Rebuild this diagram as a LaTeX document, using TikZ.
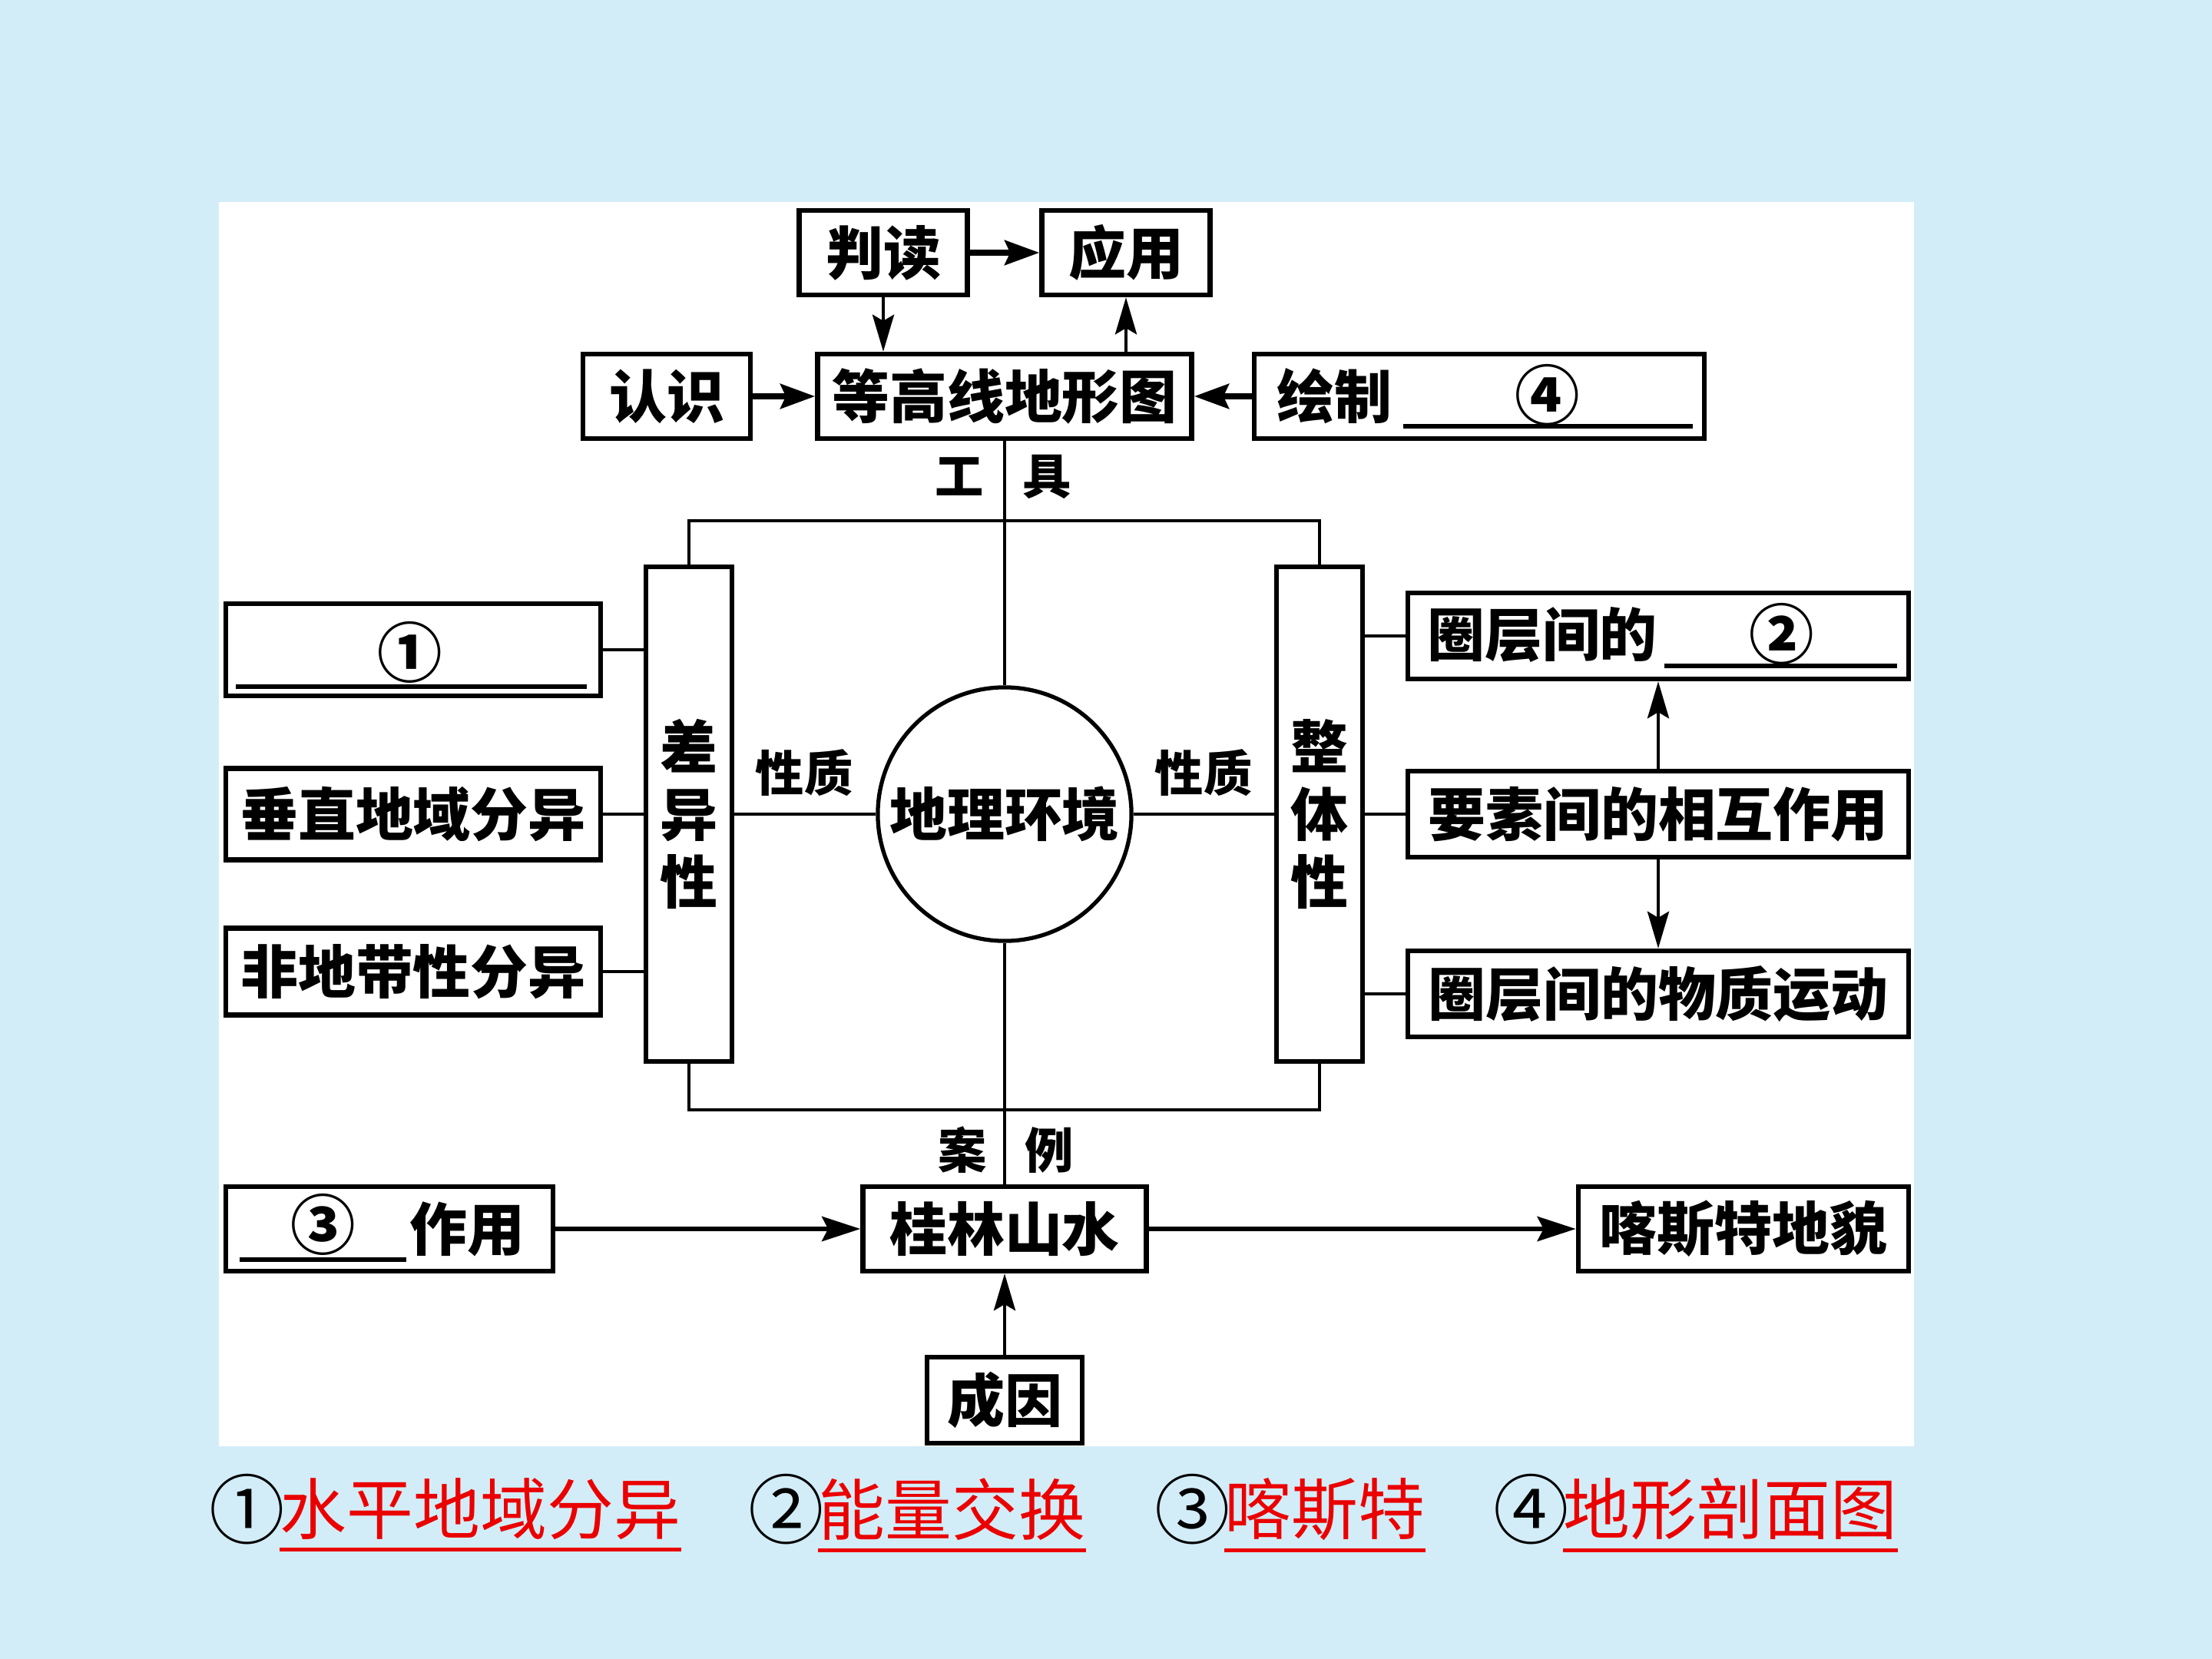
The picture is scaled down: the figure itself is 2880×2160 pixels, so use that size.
\documentclass[tikz,border=0pt]{standalone}
\usepackage{fontspec}
\newfontfamily\cjk{Noto Sans CJK SC}
\usetikzlibrary{arrows.meta}
\definecolor{bg}{RGB}{210,237,248}
\definecolor{ansred}{RGB}{235,0,0}
\begin{document}
\begin{tikzpicture}[x=0.01cm,y=-0.01cm,
  box/.style={draw, line width=1.8pt, fill=white, inner sep=0pt, minimum height=1.1cm},
  txt/.style={font={\cjk\bfseries\fontsize{21.3pt}{25pt}\selectfont}, inner sep=0pt},
  numtxt/.style={font={\cjk\bfseries\fontsize{24pt}{26pt}\selectfont}, inner sep=0pt},
  smalltxt/.style={font={\cjk\bfseries\fontsize{18pt}{20pt}\selectfont}, inner sep=0pt},
  conn/.style={line width=1.1pt},
  arr/.style={line width=1.3pt, -{Stealth[length=0.48cm,width=0.28cm,inset=0.08cm]}},
  thickarr/.style={line width=2.2pt, -{Stealth[length=0.45cm,width=0.32cm,inset=0.07cm]}},
  longarr/.style={line width=1.8pt, -{Stealth[length=0.5cm,width=0.32cm,inset=0.08cm]}},
  uline/.style={line width=1.8pt},
  ans/.style={font={\cjk\fontsize{24.7pt}{28pt}\selectfont}, inner sep=0pt, anchor=west},
  ansnum/.style={font={\cjk\fontsize{28pt}{30pt}\selectfont}, inner sep=0pt, anchor=west},
]
\useasboundingbox (0,0) rectangle (2880,2160);
\fill[bg] (0,0) rectangle (2880,2160);
\fill[white] (285,263) rectangle (2492,1883);

% frame
\coordinate (ftl) at (897,678);
\coordinate (fbr) at (1718,1445);
\draw[conn] (ftl) rectangle (fbr);

% top boxes
\node[box,txt,minimum width=2.19cm] (pd) at (1150,329) {判读};
\node[box,txt,minimum width=2.19cm] (yy) at (1466,329) {应用};
\node[box,txt,minimum width=2.18cm] (rs) at (868,516) {认识};
\node[box,txt,minimum width=4.87cm] (dgx) at (1308,516) {等高线地形图};
\node[box,minimum width=5.86cm] (hz) at (1926,516) {};
\node[txt] (hzt) at (1737,516) {绘制};
\node[numtxt] (n4) at (2015,514) {④};
\draw[uline] (1827,555) -- (2204,555);

% labels 工 具
\node[smalltxt] (gong) at (1249,621) {工};
\node[smalltxt] (ju) at (1363,621) {具};

% circle
\node[draw, circle, line width=1.5pt, minimum size=3.3cm, fill=white, txt] (env) at (1308,1060) {地理环境};

% vertical boxes
\node[box,txt,minimum width=1.12cm,minimum height=6.44cm,align=center] (cy) at (897,1060) {差\\异\\性};
\node[box,txt,minimum width=1.12cm,minimum height=6.44cm,align=center] (zt) at (1718,1060) {整\\体\\性};

% left boxes
\node[box,minimum width=4.88cm,minimum height=1.2cm] (L1) at (538,846) {};
\node[numtxt] (n1) at (534,849) {①};
\draw[uline] (307,894) -- (764,894);
\node[box,txt,minimum width=4.88cm,minimum height=1.19cm] (L2) at (538,1060) {垂直地域分异};
\node[box,txt,minimum width=4.88cm,minimum height=1.13cm] (L3) at (538,1265) {非地带性分异};

% right boxes
\node[box,minimum width=6.52cm,minimum height=1.12cm] (R1) at (2159,828) {};
\node[txt] (R1t) at (2008,826) {圈层间的};
\node[numtxt] (n2) at (2320,825) {②};
\draw[uline] (2167,867) -- (2470,867);
\node[box,txt,minimum width=6.52cm,minimum height=1.12cm] (R2) at (2159,1060) {要素间的相互作用};
\node[box,txt,minimum width=6.52cm,minimum height=1.12cm] (R3) at (2159,1294) {圈层间的物质运动};

% 性质 labels
\node[smalltxt] (xz1) at (1047,1006) {性质};
\node[smalltxt] (xz2) at (1567,1006) {性质};

% 案 例
\node[smalltxt] (an) at (1253,1497) {案};
\node[smalltxt] (li) at (1366,1497) {例};

% bottom boxes
\node[box,txt,minimum width=3.69cm] (gl) at (1308,1600) {桂林山水};
\node[box,minimum width=4.26cm] (zy) at (507,1600) {};
\node[numtxt] (n3) at (421,1594) {③};
\node[txt] (zyt) at (608,1600) {作用};
\draw[uline] (312,1640) -- (529,1640);
\node[box,txt,minimum width=4.3cm] (ks) at (2270,1600) {喀斯特地貌};
\node[box,txt,minimum width=2.02cm,minimum height=1.12cm] (cyin) at (1308,1823) {成因};

% connectors
\draw[thickarr] (pd) -- (yy);
\draw[arr] (pd.south) -- (pd.south |- dgx.north);
\draw[arr] (yy.south |- dgx.north) -- (yy.south);
\draw[thickarr] (rs) -- (dgx);
\draw[thickarr] (hz) -- (dgx);
\draw[conn] (dgx) -- (env);
\draw[conn] (env) -- (gl);
\draw[conn] (cy) -- (env);
\draw[conn] (env) -- (zt);
\draw[conn] (L1.east) -- (L1.east -| cy.west);
\draw[conn] (L2) -- (cy);
\draw[conn] (L3.east) -- (L3.east -| cy.west);
\draw[conn] (zt.east |- R1.west) -- (R1.west);
\draw[conn] (zt) -- (R2);
\draw[conn] (zt.east |- R3.west) -- (R3.west);
\draw[arr] (R2) -- (R1);
\draw[arr] (R2) -- (R3);
\draw[longarr] (zy) -- (gl);
\draw[longarr] (gl) -- (ks);
\draw[arr] (cyin) -- (gl);

% answers
\node[ansnum] (a1) at (272,1965) {①};
\node[ans,text=ansred] (a1t) at (364,1965) {水平地域分异};
\node[ansnum] (a2) at (974,1965) {②};
\node[ans,text=ansred] (a2t) at (1065,1965) {能量交换};
\node[ansnum] (a3) at (1503,1965) {③};
\node[ans,text=ansred] (a3t) at (1594,1965) {喀斯特};
\node[ansnum] (a4) at (1944,1965) {④};
\node[ans,text=ansred] (a4t) at (2035,1965) {地形剖面图};
\draw[ansred, line width=1.4pt] ([yshift=-0.12cm]a1t.south west) -- ([yshift=-0.12cm]a1t.south east);
\draw[ansred, line width=1.4pt] ([yshift=-0.12cm]a2t.south west) -- ([yshift=-0.12cm]a2t.south east);
\draw[ansred, line width=1.4pt] ([yshift=-0.12cm]a3t.south west) -- ([yshift=-0.12cm]a3t.south east);
\draw[ansred, line width=1.4pt] ([yshift=-0.12cm]a4t.south west) -- ([yshift=-0.12cm]a4t.south east);
\end{tikzpicture}
\end{document}
